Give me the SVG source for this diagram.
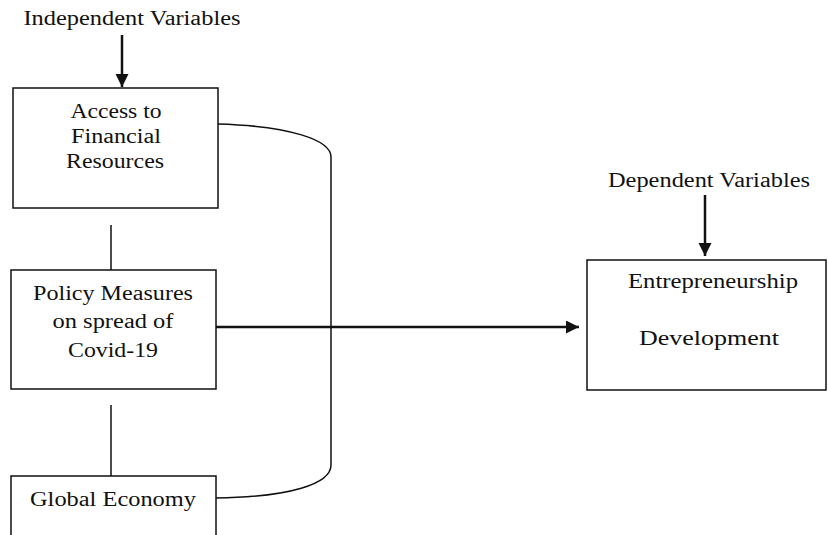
<svg xmlns="http://www.w3.org/2000/svg" width="828" height="535" viewBox="0 0 828 535">
<style>
.t{font-size:20px;fill:#111;text-anchor:middle}
.box{fill:#fff;stroke:#111;stroke-width:1.5}
.ln{fill:none;stroke:#111;stroke-width:1.5}
.ar{fill:none;stroke:#111;stroke-width:2.5}
</style>
<defs>
<marker id="ah" markerUnits="userSpaceOnUse" markerWidth="16" markerHeight="14" refX="13" refY="6.5" orient="auto">
<path d="M0,0 L13,6.5 L0,13 Z" fill="#111"/>
</marker>
</defs>
<rect width="828" height="535" fill="#fff"/>
<g id="connectors">
<line class="ar" x1="122" y1="35" x2="122" y2="87" marker-end="url(#ah)"/>
<line class="ar" x1="705" y1="195" x2="705" y2="256" marker-end="url(#ah)"/>
<line class="ln" x1="111" y1="225" x2="111" y2="270"/>
<line class="ln" x1="111" y1="405" x2="111" y2="476"/>
<path class="ln" d="M218,124 C290,126 331,140 331,157 L331,465 C331,484 290,497 216,498"/>
<line class="ar" x1="216" y1="327" x2="579" y2="327" marker-end="url(#ah)"/>
</g>
<g font-family="Liberation Serif, DejaVu Serif, serif">
<g id="label-independent">
<text class="t" x="132" y="25" textLength="217" lengthAdjust="spacingAndGlyphs">Independent Variables</text>
</g>
<g id="label-dependent">
<text class="t" x="709" y="187" textLength="202" lengthAdjust="spacingAndGlyphs">Dependent Variables</text>
</g>
<g id="node-access">
<rect class="box" x="13" y="88" width="205" height="120"/>
<text class="t" x="116" y="118" textLength="91" lengthAdjust="spacingAndGlyphs">Access to</text>
<text class="t" x="116" y="143" textLength="90" lengthAdjust="spacingAndGlyphs">Financial</text>
<text class="t" x="115" y="168" textLength="98" lengthAdjust="spacingAndGlyphs">Resources</text>
</g>
<g id="node-policy">
<rect class="box" x="11" y="270" width="205" height="119"/>
<text class="t" x="113" y="300" textLength="160" lengthAdjust="spacingAndGlyphs">Policy Measures</text>
<text class="t" x="113" y="328" textLength="121" lengthAdjust="spacingAndGlyphs">on spread of</text>
<text class="t" x="113" y="357" textLength="90" lengthAdjust="spacingAndGlyphs">Covid-19</text>
</g>
<g id="node-global">
<rect class="box" x="11" y="476" width="205" height="70"/>
<text class="t" x="113" y="506" textLength="166" lengthAdjust="spacingAndGlyphs">Global Economy</text>
</g>
<g id="node-entre">
<rect class="box" x="587" y="260" width="239" height="130"/>
<text class="t" x="713" y="288" textLength="170" lengthAdjust="spacingAndGlyphs">Entrepreneurship</text>
<text class="t" x="709" y="345" textLength="140" lengthAdjust="spacingAndGlyphs">Development</text>
</g>
</g>
</svg>
